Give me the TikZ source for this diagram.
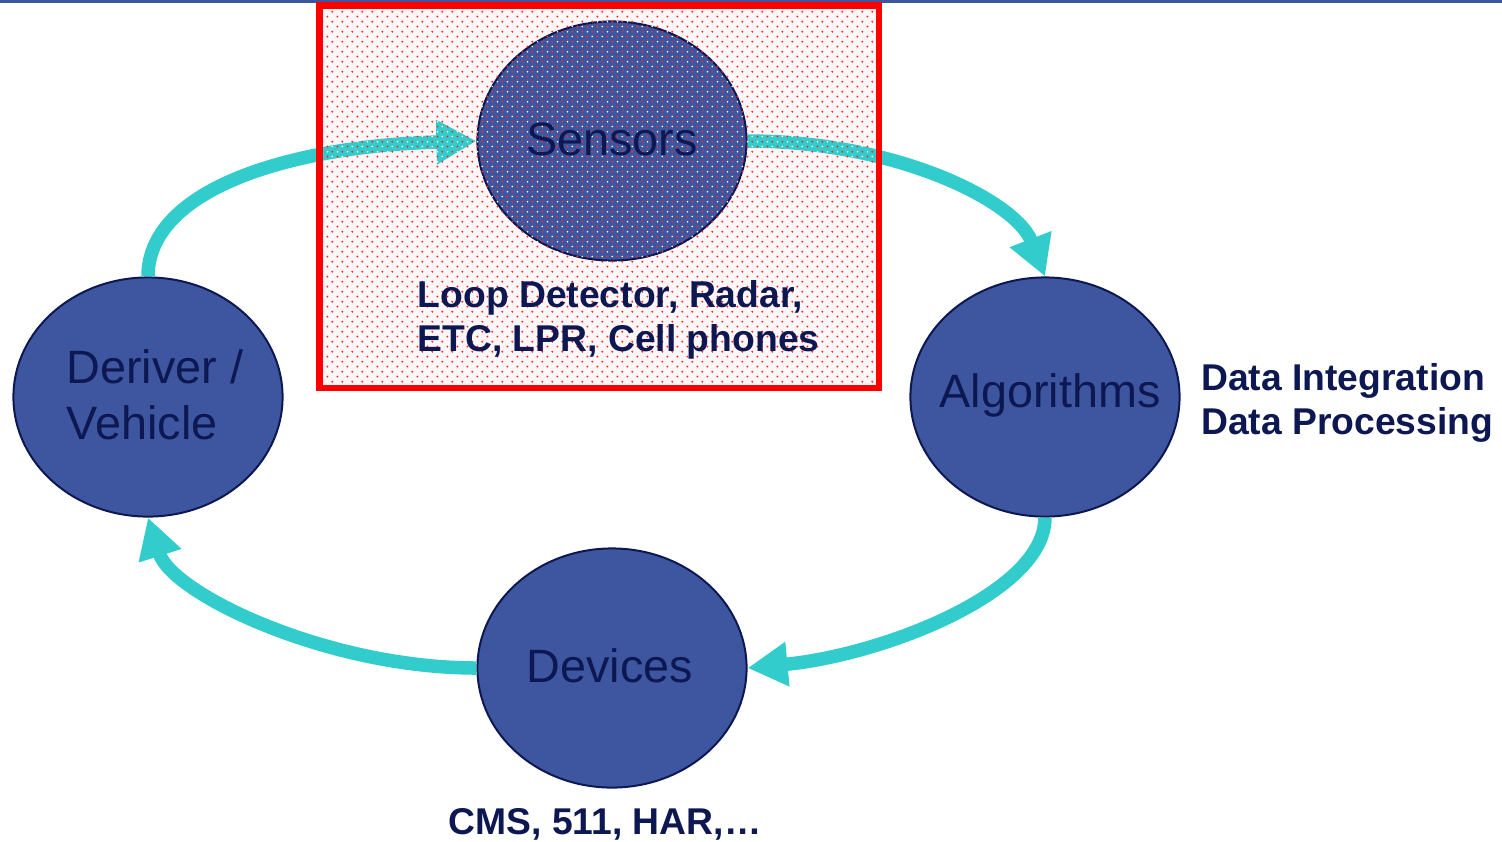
\documentclass[tikz,border=0pt]{standalone}
\usepackage{fontspec}
\setmainfont{Liberation Sans}
\usepackage{xcolor}
\usetikzlibrary{arrows.meta,positioning,shapes,patterns}

\definecolor{blobblue}{HTML}{3E56A0}
\definecolor{inkblue}{HTML}{0D1852}
\definecolor{loopcyan}{HTML}{33CCCC}

\pgfdeclarepatternformonly{redspeckle}{\pgfpointorigin}{\pgfpoint{2.8pt}{2.8pt}}{\pgfpoint{2.8pt}{2.8pt}}%
{\pgfpathcircle{\pgfpoint{0.7pt}{0.7pt}}{0.3pt}\pgfpathcircle{\pgfpoint{2.1pt}{2.1pt}}{0.3pt}\pgfusepath{fill}}
\pgfdeclarepatternformonly{whitespeckle}{\pgfpointorigin}{\pgfpoint{2.8pt}{2.8pt}}{\pgfpoint{2.8pt}{2.8pt}}%
{\pgfpathcircle{\pgfpoint{2.1pt}{0.7pt}}{0.25pt}\pgfpathcircle{\pgfpoint{0.7pt}{2.1pt}}{0.25pt}\pgfusepath{fill}}

\begin{document}
\begin{tikzpicture}[x=0.01cm, y=-0.01cm,
	blob/.style={ellipse, draw=inkblue, line width=0.02cm, fill=blobblue, minimum width=\rx, minimum height=\ry, inner sep=0pt},
	blobtext/.style={inner sep=0pt, align=left, text=inkblue, font=\fontsize{13.3}{16}\selectfont},
	lbl/.style={inner sep=0pt, align=left, text=inkblue, font=\fontsize{10.6}{12.4}\selectfont\bfseries},
	flow/.style={draw=loopcyan, line width=0.135cm, -{Triangle[length=0.4cm,width=0.42cm]}}]
\def\rx{2.69cm};
\def\ry{2.39cm};
\useasboundingbox (0,0) rectangle (1502,841);

\fill[blobblue] (0,0) rectangle (1502,2.5);

\coordinate (boxA) at (319.5,5.5);
\coordinate (boxB) at (879,388);
\fill[red!3] (boxA) rectangle (boxB);

\foreach \n/\p in {drv/{148,397}, sen/{612,141}, alg/{1045,397}, dev/{612,668}}
{
	\node[blob] (\n) at (\p) {};
}

% the loop
\draw[flow] (drv.north) .. controls +(0,-87) and +(-187,5) .. (sen.west);
\draw[flow] (sen.east) .. controls +(150,0) and +(-29,-75) .. (alg.north);
\draw[flow] (alg.south) .. controls +(0,75) and +(135,-13) .. (dev.east);
\draw[flow] (dev.west) .. controls +(-150,0) and +(24,76) .. (drv.south);

\fill[pattern=redspeckle, pattern color=red!85] (boxA) rectangle (boxB);
\fill[pattern=whitespeckle, pattern color=white] (boxA) rectangle (boxB);
\draw[red, line width=0.065cm] (boxA) rectangle (boxB);

\foreach \n/\dx/\t in {drv/7/{Deriver /\\Vehicle}, sen/0/Sensors, alg/5/Algorithms, dev/-2/Devices}
{
	\node[blobtext, xshift=\dx*0.01cm, yshift=0.02cm] (\n txt) at (\n) {\t};
}

\node[lbl, anchor=north west] (senlbl) at (417,280) {Loop Detector, Radar,\\ETC, LPR, Cell phones};
\node[lbl, right=0.2cm of alg, yshift=-0.06cm] (alglbl) {Data Integration\\Data Processing};
\node[lbl, anchor=north] (devlbl) at (605,808) {CMS, 511, HAR,…};

\end{tikzpicture}
\end{document}
